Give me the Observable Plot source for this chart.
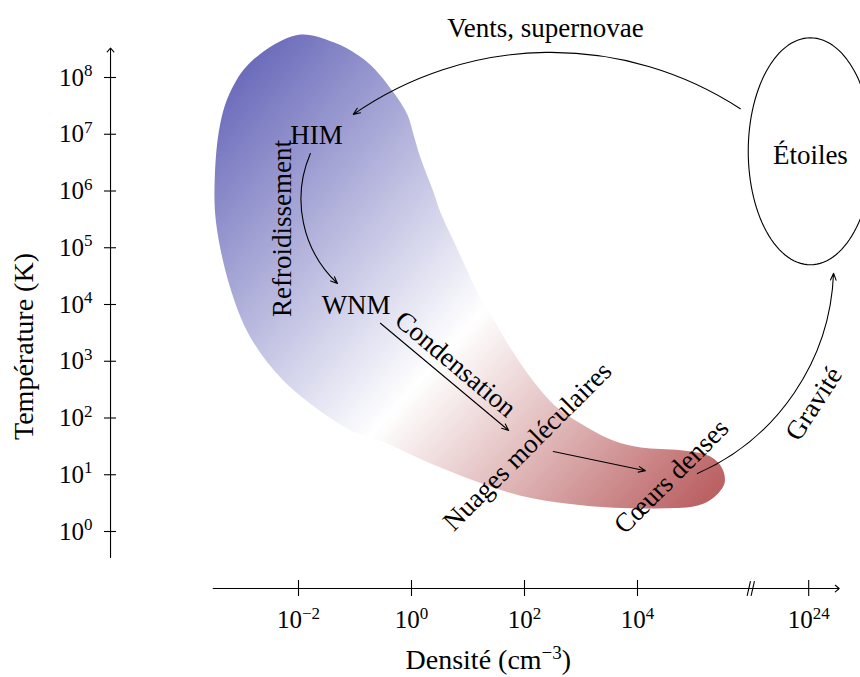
<!DOCTYPE html>
<html>
<head>
<meta charset="utf-8">
<script src="https://cdn.jsdelivr.net/npm/d3@7"></script>
<script src="https://cdn.jsdelivr.net/npm/@observablehq/plot@0.6"></script>
<style>
  html, body { margin: 0; padding: 0; background: #fff; }
</style>
</head>
<body>
<div id="chart"></div>
<script>
// ---------- Axes (log10 units) ----------
const densityExponents = [-2, 0, 2, 4, 24];        // x tick labels 10^e (cm^-3)
const temperatureExponents = [0, 1, 2, 3, 4, 5, 6, 7, 8]; // y tick labels 10^e (K)
const BREAK_AT = 6.0;      // position of the axis break "//"
const FAR_TICK = 7.03;     // position where 10^24 is drawn after the break
const densityPos = e => (e > 10 ? FAR_TICK + (e - 24) : e);

// ---------- ISM blob outline (log n, log T) ----------
const blobLogN = [-2.02, -1.38, -0.78, -0.32, -0.07, 0.04, 0.16, 0.39, 0.51, 0.74, 0.97, 1.22, 1.49, 1.72, 2.11,
  2.58, 3.12, 3.58, 4.06, 4.77, 5.29, 5.50, 5.54, 5.35, 5.07, 4.47, 3.58, 2.77, 1.93, 1.10, 0.34, -0.55, -0.96,
  -1.38, -2.27, -2.85, -3.21, -3.46, -3.48, -3.39, -3.21, -2.85];
const blobLogT = [8.75, 8.62, 8.27, 7.74, 7.34, 6.98, 6.58, 5.98, 5.63, 5.13, 4.63, 4.11, 3.68, 3.28, 2.71,
  2.18, 1.83, 1.60, 1.48, 1.43, 1.32, 1.11, 0.85, 0.60, 0.46, 0.41, 0.42, 0.49, 0.63, 0.90, 1.20, 1.60, 1.73,
  1.96, 2.66, 3.42, 4.30, 5.45, 6.28, 7.16, 7.74, 8.27];
const blobColors = ["#6b6bbb", "#ffffff", "#bb6264"];
const blobStops = [0, 0.54, 1];
const gradFrom = [-4.09, 6.93];   // gradient direction (log n, log T)
const gradTo = [4.21, -0.49];

// ---------- "Étoiles" node ----------
const starsCenter = [7.06, 6.70];
const starsRadii = [1.10, 2.0];

// ---------- Labels ----------
const labelText = ["HIM", "WNM", "Étoiles", "Refroidissement", "Condensation", "Nuages moléculaires",
  "Cœurs denses", "Gravité", "Vents, supernovae"];
const labelLogN = [-1.68, -0.98, 7.06, -2.28, 0.78, 2.05, 4.60, 7.12, 2.37];
const labelLogT = [6.98, 3.98, 6.63, 5.34, 2.95, 1.50, 0.97, 2.25, 8.86];
const labelRotate = [0, 0, 0, -90, 40, -45, -45, -57, 0];

// ---------- Arrows (process flow) ----------
const arrowName = ["vents", "refroidissement", "condensation", "effondrement", "gravite"];
const arrowX1 = [5.82, -1.79, -0.55, 2.51, 5.06];
const arrowY1 = [7.45, 6.66, 3.67, 1.41, 1.02];
const arrowX2 = [-1.03, -1.31, 1.72, 4.14, 7.47];
const arrowY2 = [7.35, 4.37, 1.78, 1.07, 4.55];
const arrowBend = [-34, -35, 0, 0, -32];

// ---------- Axis lines ----------
const yAxisAt = -5.327, yAxisFrom = -0.46, yAxisTo = 8.52;
const xAxisAt = -1.005, xAxisFrom = -3.51, xAxisTo = 7.57;

// ---------- Build ----------
const blob = blobLogN.map((x, i) => ({x, y: blobLogT[i]}));
const ellipse = d3.range(0, 120).map(k => {
  const a = (k / 120) * 2 * Math.PI;
  return {x: starsCenter[0] + starsRadii[0] * Math.cos(a), y: starsCenter[1] + starsRadii[1] * Math.sin(a)};
});
const labels = labelText.map((t, i) => ({t, x: labelLogN[i], y: labelLogT[i], r: labelRotate[i]}));
const arrows = arrowName.map((n, i) => ({n, x1: arrowX1[i], y1: arrowY1[i], x2: arrowX2[i], y2: arrowY2[i], bend: arrowBend[i]}));
const breaks = [BREAK_AT - 0.03, BREAK_AT + 0.04];

const FONT = "'Liberation Serif', 'DejaVu Serif', serif";
const xTickPositions = densityExponents.map(densityPos);
const xFmt = d => {
  const e = densityExponents.find(v => Math.abs(densityPos(v) - d) < 1e-9);
  return `10^{${String(e).replace("-", "−")}}`;
};

const plot = Plot.plot({
  width: 860,
  height: 677,
  marginLeft: 110,
  marginRight: 22,
  marginTop: 48,
  marginBottom: 89,
  x: {type: "linear", domain: [0, 4], range: [411, 637], label: null},
  y: {type: "linear", domain: [0, 8], range: [531, 77], label: null},
  style: {fontFamily: FONT, fontSize: "25px", background: "#fff", color: "#000", overflow: "visible"},
  marks: [
    // blob
    Plot.line(blob, {x: "x", y: "y", curve: "catmull-rom-closed", fill: "url(#blobGrad)", stroke: "none"}),
    // stars ellipse
    Plot.line(ellipse, {x: "x", y: "y", curve: "linear-closed", stroke: "#000", strokeWidth: 1.1, fill: "none"}),
    // axes ticks
    Plot.axisY({ticks: temperatureExponents, tickSize: 12, dx: 6, tickFormat: () => "", label: null, strokeWidth: 1.1}),
    Plot.axisY({ticks: temperatureExponents, tickSize: 0, tickPadding: 18, fontSize: 25,
      tickFormat: d => `10^{${d}}`, label: null}),
    Plot.axisX({ticks: xTickPositions, tickSize: 16, dy: -8, tickFormat: () => "", label: null, strokeWidth: 1.1}),
    Plot.axisX({ticks: xTickPositions, tickSize: 0, tickPadding: 22, fontSize: 25, tickFormat: xFmt, label: null}),
    // axis lines with arrow heads
    Plot.arrow([0], {x1: yAxisAt, x2: yAxisAt, y1: yAxisFrom, y2: yAxisTo, headLength: 7, headAngle: 80, strokeWidth: 1.1, stroke: "#000"}),
    Plot.arrow([0], {x1: xAxisFrom, x2: xAxisTo, y1: xAxisAt, y2: xAxisAt, headLength: 7, headAngle: 80, strokeWidth: 1.1, stroke: "#000"}),
    // axis break marks
    Plot.link(breaks, {x1: d => d - 0.03, x2: d => d + 0.03, y1: xAxisAt - 0.13, y2: xAxisAt + 0.13, stroke: "#000", strokeWidth: 1.1}),
    // axis titles
    Plot.text(["Température (K)"], {x: -6.85, y: 3.26, text: d => d, rotate: -90, fontSize: 28}),
    Plot.text(["Densité (cm^{−3})"], {x: 1.36, y: -2.27, text: d => d, fontSize: 28}),
    // process arrows
    ...arrows.map(a => Plot.arrow([a], {x1: "x1", y1: "y1", x2: "x2", y2: "y2", bend: a.bend,
      headLength: 10, headAngle: 45, stroke: "#000", strokeWidth: 1.1})),
    // labels
    Plot.text(labels, {x: "x", y: "y", text: "t", rotate: "r", fontSize: 27})
  ]
});

// gradient definition for blob
const ns = "http://www.w3.org/2000/svg";
const sx = plot.scale("x"), sy = plot.scale("y");
const defs = document.createElementNS(ns, "defs");
const lg = document.createElementNS(ns, "linearGradient");
lg.setAttribute("id", "blobGrad");
lg.setAttribute("gradientUnits", "userSpaceOnUse");
lg.setAttribute("x1", sx.apply(gradFrom[0]));
lg.setAttribute("y1", sy.apply(gradFrom[1]));
lg.setAttribute("x2", sx.apply(gradTo[0]));
lg.setAttribute("y2", sy.apply(gradTo[1]));
blobStops.forEach((o, i) => {
  const s = document.createElementNS(ns, "stop");
  s.setAttribute("offset", o);
  s.setAttribute("stop-color", blobColors[i]);
  lg.appendChild(s);
});
defs.appendChild(lg);
plot.insertBefore(defs, plot.firstChild);

// superscripts
plot.querySelectorAll("text").forEach(t => {
  const s = t.textContent;
  if (!s.includes("^{")) return;
  const parts = s.split(/(\^\{[^}]*\})/).filter(p => p);
  while (t.firstChild) t.removeChild(t.firstChild);
  let raised = false;
  parts.forEach(p => {
    const ts = document.createElementNS(ns, "tspan");
    if (p.startsWith("^{")) {
      ts.textContent = p.slice(2, -1);
      ts.setAttribute("dy", "-0.55em");
      ts.setAttribute("font-size", "0.68em");
      raised = true;
    } else {
      ts.textContent = p;
      if (raised) { ts.setAttribute("dy", "0.374em"); raised = false; }
    }
    t.appendChild(ts);
  });
});

document.getElementById("chart").appendChild(plot);
</script>
</body>
</html>
